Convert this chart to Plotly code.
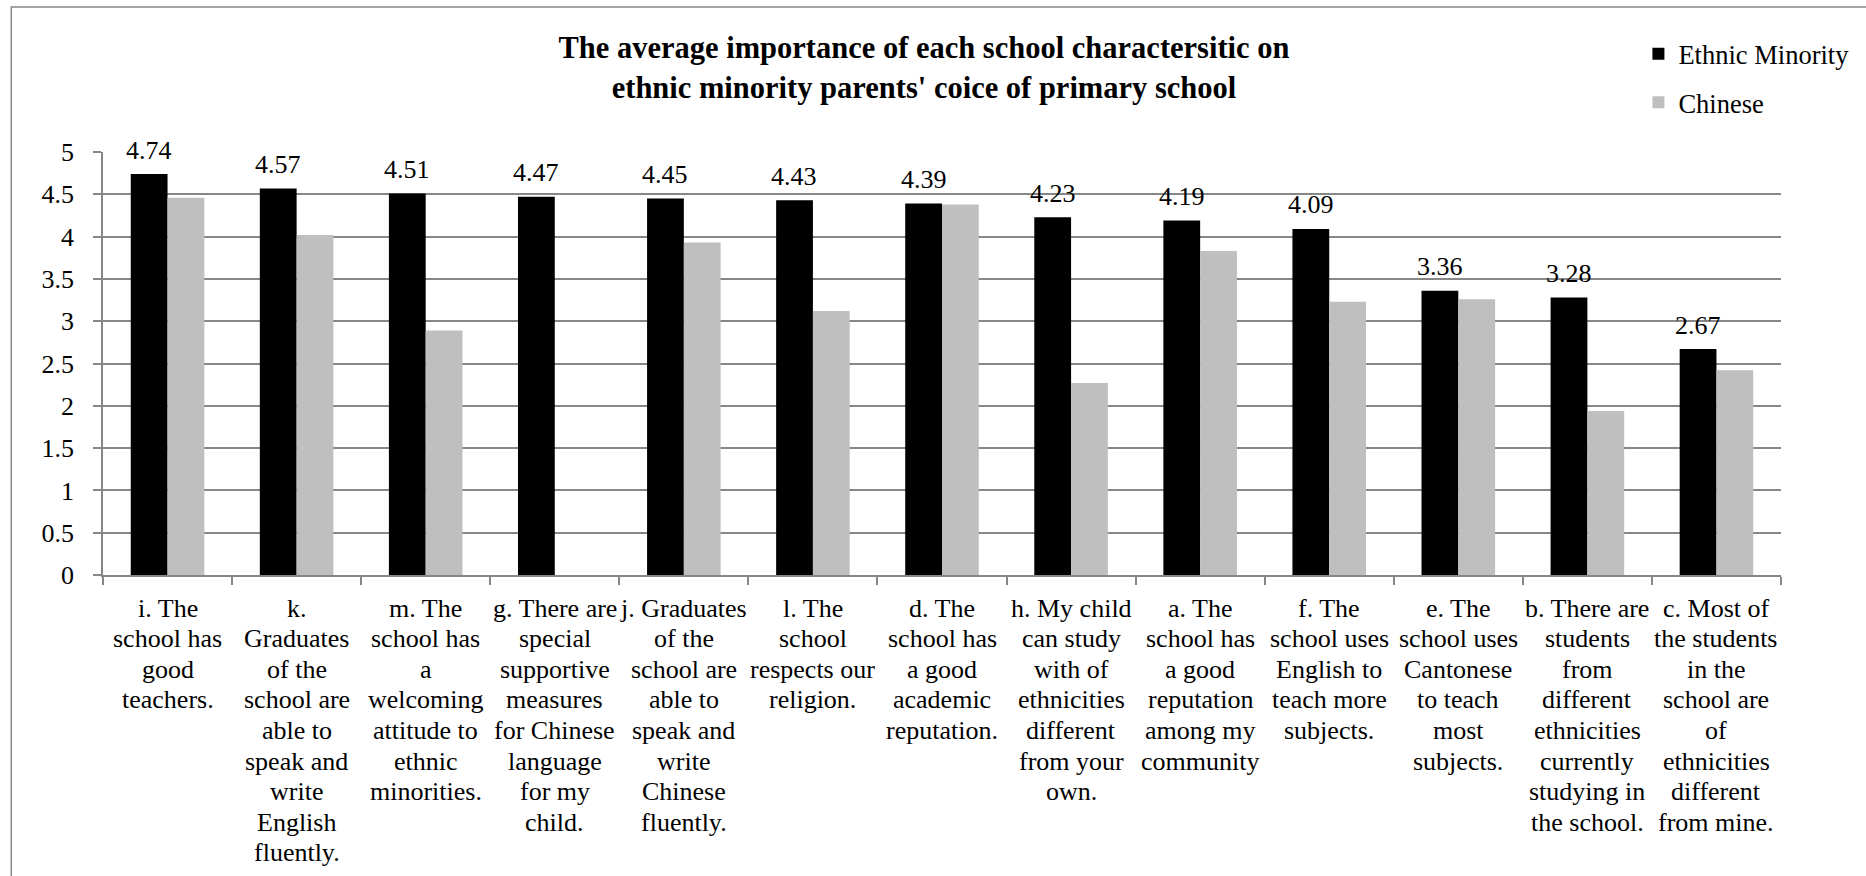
import plotly.graph_objects as go

categories = ["i", "k", "m", "g", "j", "l", "d", "h", "a", "f", "e", "b", "c"]
category_labels = [
    ["i. The", "school has", "good", "teachers."],
    ["k.", "Graduates", "of the", "school are", "able to", "speak and", "write", "English", "fluently."],
    ["m. The", "school has", "a", "welcoming", "attitude to", "ethnic", "minorities."],
    ["g. There are", "special", "supportive", "measures", "for Chinese", "language", "for my", "child."],
    ["j. Graduates", "of the", "school are", "able to", "speak and", "write", "Chinese", "fluently."],
    ["l. The", "school", "respects our", "religion."],
    ["d. The", "school has", "a good", "academic", "reputation."],
    ["h. My child", "can study", "with of", "ethnicities", "different", "from your", "own."],
    ["a. The", "school has", "a good", "reputation", "among my", "community"],
    ["f. The", "school uses", "English to", "teach more", "subjects."],
    ["e. The", "school uses", "Cantonese", "to teach", "most", "subjects."],
    ["b. There are", "students", "from", "different", "ethnicities", "currently", "studying in", "the school."],
    ["c. Most of", "the students", "in the", "school are", "of", "ethnicities", "different", "from mine."],
]
ethnic_minority = [4.74, 4.57, 4.51, 4.47, 4.45, 4.43, 4.39, 4.23, 4.19, 4.09, 3.36, 3.28, 2.67]
chinese = [4.46, 4.02, 2.89, None, 3.93, 3.12, 4.38, 2.27, 3.83, 3.23, 3.26, 1.94, 2.42]
y_ticks = [0, 0.5, 1, 1.5, 2, 2.5, 3, 3.5, 4, 4.5, 5]

FONT = "Liberation Serif, Times New Roman, serif"
W, H = 1866, 876
ML, MR, MT, MB = 103, 80, 152, 301
GRID = "#878787"
BARGAP = 0.43

pw = W - ML - MR
ph = H - MT - MB
cat_w = pw / len(categories)
bar_w = (1 - BARGAP) * cat_w / 2

fig = go.Figure()
fig.add_trace(go.Bar(
    x=categories, y=ethnic_minority, name="Ethnic Minority",
    marker=dict(color="#000000", line=dict(width=0)),
    legendgroup="em",
))
fig.add_trace(go.Bar(
    x=categories, y=chinese, name="Chinese",
    marker=dict(color="#BFBFBF", line=dict(width=0)),
    legendgroup="cn",
))

annotations = []
# data labels above the Ethnic Minority bars
for cat, v in zip(categories, ethnic_minority):
    annotations.append(dict(
        x=cat, xref="x", y=v, yref="y", yanchor="middle",
        xshift=-bar_w / 2, yshift=24, text=f"{v:.2f}", showarrow=False,
        font=dict(family=FONT, size=26, color="#000000"),
    ))
# multi-line category labels
for cat, lines in zip(categories, category_labels):
    for j, line in enumerate(lines):
        annotations.append(dict(
            x=cat, xref="x", y=0, yref="paper", yanchor="middle",
            yshift=-(33 + j * 30.6), text=line, showarrow=False,
            font=dict(family=FONT, size=26, color="#000000"),
        ))

shapes = [dict(
    type="rect", xref="paper", yref="paper",
    x0=(11 - ML) / pw, x1=(W + 20 - ML) / pw,
    y0=-(MB + 20) / ph, y1=1 + (MT - 7) / ph,
    line=dict(color=GRID, width=1.5), fillcolor="rgba(0,0,0,0)", layer="below",
)]

fig.update_layout(
    width=W, height=H,
    margin=dict(l=ML, r=MR, t=MT, b=MB, pad=0),
    paper_bgcolor="white", plot_bgcolor="white",
    font=dict(family=FONT, size=26, color="#000000"),
    barmode="group", bargap=BARGAP, bargroupgap=0,
    title=dict(
        text="The average importance of each school charactersitic on<br>ethnic minority parents' coice of primary school",
        font=dict(family=FONT, size=30.5, color="#000000", weight="bold"),
        x=924 / W, xref="container", xanchor="center",
        y=1 - 58 / H, yref="container", yanchor="middle",
    ),
    legend=dict(
        x=(1643 - ML) / pw, xanchor="left", y=1 + (MT - 30) / ph, yanchor="top",
        font=dict(family=FONT, size=26.5, color="#000000"),
        tracegroupgap=11, itemwidth=30, bgcolor="rgba(0,0,0,0)",
    ),
    xaxis=dict(
        showticklabels=False, ticks="outside", tickson="boundaries", ticklen=8,
        tickcolor=GRID, tickwidth=1.5, showline=True, linecolor=GRID, linewidth=1.5,
        showgrid=False, zeroline=False, fixedrange=True,
    ),
    yaxis=dict(
        range=[0, 5], tickvals=y_ticks, ticks="outside", ticklen=8,
        tickcolor=GRID, tickwidth=1.5, showline=True, linecolor=GRID, linewidth=1.5,
        showgrid=True, gridcolor=GRID, gridwidth=1.5, zeroline=False,
        tickfont=dict(family=FONT, size=26, color="#000000"), ticklabelstandoff=14,
    ),
    annotations=annotations, shapes=shapes, showlegend=True,
)

fig.write_html("out.html")
